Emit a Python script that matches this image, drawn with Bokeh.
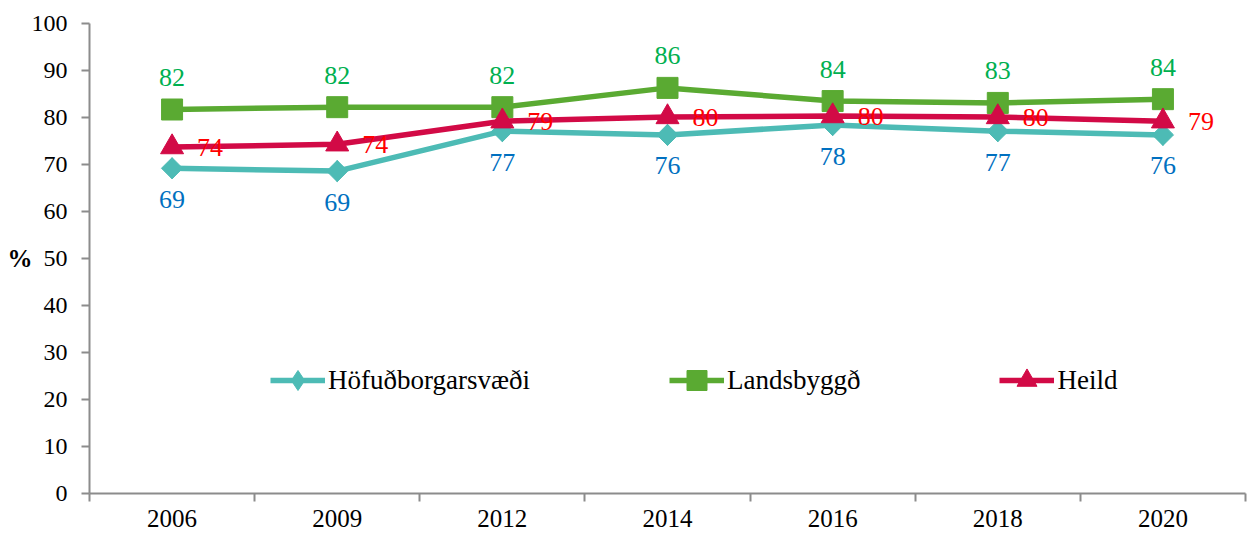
import math
from bokeh.plotting import figure
from bokeh.models import FixedTicker, Range1d, ColumnDataSource
from bokeh.core.properties import value
from bokeh.embed import file_html
from bokeh.resources import INLINE

years = ["2006", "2009", "2012", "2014", "2016", "2018", "2020"]
hofud = [69.2, 68.6, 77.1, 76.3, 78.4, 77.1, 76.3]
lands = [81.7, 82.2, 82.2, 86.3, 83.5, 83.1, 83.9]
heild = [73.7, 74.3, 79.2, 80.1, 80.3, 80.1, 79.2]
series_names = ["Höfuðborgarsvæði", "Landsbyggð", "Heild"]
y_ticks = list(range(0, 101, 10))

FONT = "Liberation Serif"
AXIS_GRAY = "#8C8C8C"

xpos = [i + 0.5 for i in range(len(years))]

p = figure(width=1248, height=536, output_backend="svg", toolbar_location=None,
           x_range=Range1d(0, len(years)), y_range=Range1d(0, 100),
           min_border_left=89, min_border_right=3, min_border_top=23, min_border_bottom=43)
p.outline_line_color = None
p.grid.visible = False
p.background_fill_color = "white"

# x axis: labels at category centres, tick marks at category boundaries
p.xaxis.ticker = FixedTicker(ticks=xpos, minor_ticks=list(range(len(years) + 1)))
p.xaxis.major_label_overrides = {xv: y for xv, y in zip(xpos, years)}
p.xaxis.major_tick_line_color = None
p.xaxis.major_tick_out = 8
p.xaxis.major_tick_in = 0
p.xaxis.minor_tick_line_color = AXIS_GRAY
p.xaxis.minor_tick_out = 8
p.xaxis.minor_tick_in = 0
p.xaxis.minor_tick_line_width = 2
p.xaxis.major_label_standoff = 8
p.xaxis.major_label_text_font_size = "25px"

p.yaxis.ticker = FixedTicker(ticks=y_ticks, minor_ticks=[])
p.yaxis.major_tick_line_color = AXIS_GRAY
p.yaxis.major_tick_out = 8
p.yaxis.major_tick_in = 0
p.yaxis.major_tick_line_width = 2
p.yaxis.major_label_standoff = 14
p.yaxis.major_label_text_font_size = "24px"
p.yaxis.axis_label = "%"
p.yaxis.axis_label_orientation = "horizontal"
p.yaxis.axis_label_text_font = FONT
p.yaxis.axis_label_text_font_style = "bold"
p.yaxis.axis_label_text_font_size = "25px"
p.yaxis.axis_label_text_color = "black"
p.yaxis.axis_label_standoff = -4

for ax in (p.xaxis, p.yaxis):
    ax.axis_line_color = AXIS_GRAY
    ax.axis_line_width = 2
    ax.major_label_text_font = FONT
    ax.major_label_text_color = "black"

line_colors = ["#4DBBB5", "#5AAA32", "#D20A46"]
label_colors = ["#0070C0", "#00B050", "#FF0000"]
offsets = [(0, 31), (0, -32), (38, 0)]
all_vals = [hofud, lands, heild]

for i, (name, vals, lc, tc, (dx, dy)) in enumerate(zip(series_names, all_vals, line_colors,
                                                       label_colors, offsets)):
    src = ColumnDataSource(dict(x=xpos, y=vals, lab=[str(int(round(v))) for v in vals]))
    p.line("x", "y", source=src, line_color=lc, line_width=5.5, legend_label=name)
    if i == 0:
        # diamond key for the legend, covered on the plot by the rotated square
        p.scatter("x", "y", source=src, marker="diamond", size=21, fill_color=lc,
                  line_color=lc, legend_label=name)
        p.scatter("x", "y", source=src, marker="square", angle=math.pi / 4, size=15,
                  fill_color=lc, line_color=lc)
    elif i == 1:
        p.scatter("x", "y", source=src, marker="square", size=21, fill_color=lc,
                  line_color=lc, legend_label=name)
    else:
        p.scatter("x", "y", source=src, marker="triangle", size=23, fill_color=lc,
                  line_color=lc, legend_label=name)
    p.text("x", "y", text="lab", source=src, x_offset=dx, y_offset=dy,
           text_align="center", text_baseline="middle", text_color=tc,
           text_font=value(FONT), text_font_size="26px")

lg = p.legend[0]
lg.orientation = "horizontal"
lg.location = (181, 88)
lg.background_fill_alpha = 0
lg.border_line_color = None
lg.padding = 0
lg.margin = 0
lg.spacing = 139
lg.glyph_width = 55
lg.glyph_height = 50
lg.label_standoff = 3
lg.label_text_font = FONT
lg.label_text_font_size = "27px"
lg.label_text_color = "black"

open("out.html", "w").write(file_html(p, INLINE))
